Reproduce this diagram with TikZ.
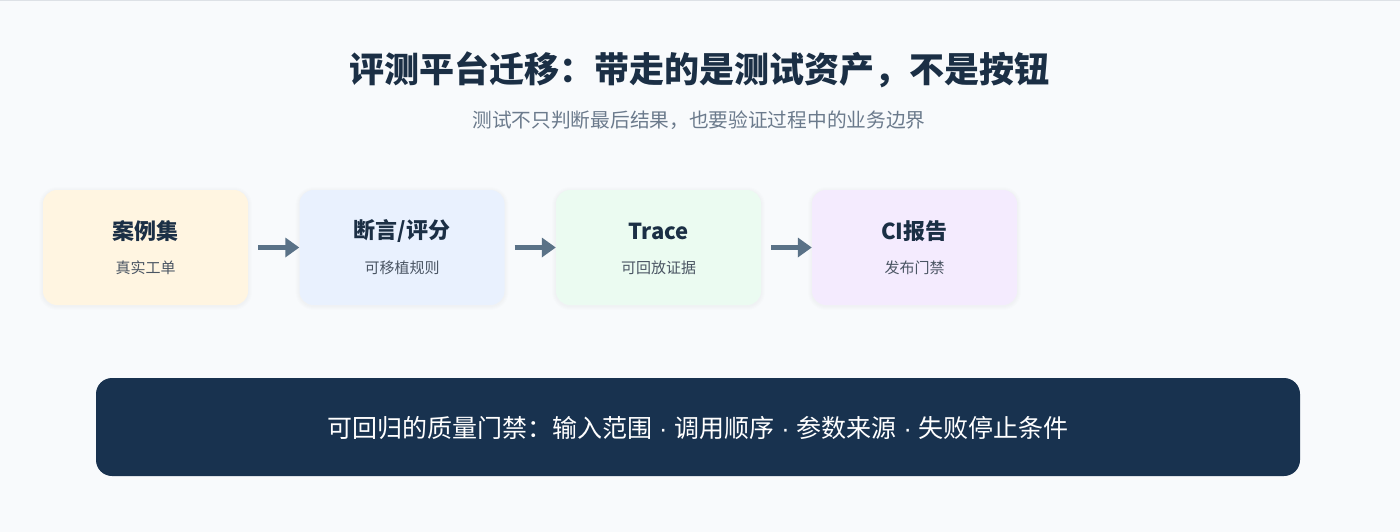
\documentclass[tikz,border=0pt]{standalone}
\usepackage{fontspec}
\setmainfont{Noto Sans CJK SC}
\newfontfamily\latinfont{Liberation Sans}
\usetikzlibrary{arrows.meta}
\definecolor{bgc}{HTML}{F8FAFC}
\definecolor{titlec}{HTML}{1B2F45}
\definecolor{subc}{HTML}{6B7A8C}
\definecolor{boxsubc}{HTML}{4A5563}
\definecolor{fillA}{HTML}{FFF5E1}
\definecolor{fillB}{HTML}{E9F1FE}
\definecolor{fillC}{HTML}{EBFBF1}
\definecolor{fillD}{HTML}{F4EBFE}
\definecolor{arrc}{HTML}{5A7287}
\definecolor{barc}{HTML}{18324F}
\definecolor{topline}{HTML}{DDE1E6}
\newcommand{\sepdot}{{\latinfont\ ·\ }}
\tikzset{
  stagebox/.style={rounded corners=14pt, minimum width=205pt, minimum height=115pt, inner sep=0pt, draw=none},
  stagetitle/.style={font=\fontsize{22}{26}\selectfont\bfseries, text=titlec, inner sep=0pt},
  stagesub/.style={font=\fontsize{15}{18}\selectfont, text=boxsubc, inner sep=0pt},
  flowarrow/.style={-{Triangle[length=14pt,width=19pt]}, line width=4.5pt, draw=arrc, shorten <=10pt},
}
\begin{document}
\begin{tikzpicture}[x=1pt,y=-1pt]
\fill[bgc] (0,0) rectangle (1400,532);
\useasboundingbox (0,0) rectangle (1400,532);
\fill[topline] (0,0) rectangle (1400,1.5);

\node[font=\fontsize{35}{40}\selectfont\bfseries, text=titlec, inner sep=0pt] (title) at (699,70) {评测平台迁移：带走的是测试资产，不是按钮};
\node[font=\fontsize{19.7}{23}\selectfont, text=subc, inner sep=0pt] (subtitle) at (699,120) {测试不只判断最后结果，也要验证过程中的业务边界};

% soft shadows
\foreach \cx in {145.5,402,658.5,914.5}{
  \foreach \d in {1,2,3,4}{
    \fill[black, opacity=0.008, rounded corners=14pt+\d pt] (\cx-102.5-\d,190-\d+1) rectangle (\cx+102.5+\d,305+\d+1);
  }
}

\node[stagebox, fill=fillA] (b1) at (145.5,247.5) {};
\node[stagebox, fill=fillB] (b2) at (402,247.5) {};
\node[stagebox, fill=fillC] (b3) at (658.5,247.5) {};
\node[stagebox, fill=fillD] (b4) at (914.5,247.5) {};

\node[stagetitle] (t1) at (145.5,231) {案例集};
\node[stagesub] (s1) at (145.5,268) {真实工单};
\node[stagetitle] (t2) at (402,231) {断言/评分};
\node[stagesub] (s2) at (402,268) {可移植规则};
\node[stagetitle] (t3) at (658.5,231) {Trace};
\node[stagesub] (s3) at (658.5,268) {可回放证据};
\node[stagetitle] (t4) at (914.5,231) {CI报告};
\node[stagesub] (s4) at (914.5,268) {发布门禁};

\draw[flowarrow] (b1) -- (b2);
\draw[flowarrow] (b2) -- (b3);
\draw[flowarrow] (b3) -- (b4);

\node[fill=barc, rounded corners=16pt, minimum width=1204pt, minimum height=98pt, inner sep=0pt] (bar) at (698,427) {};
\node[font=\fontsize{25}{30}\selectfont, text=white, inner sep=0pt] (bartext) at (698,428) {可回归的质量门禁：输入范围\sepdot 调用顺序\sepdot 参数来源\sepdot 失败停止条件};
\end{tikzpicture}
\end{document}
